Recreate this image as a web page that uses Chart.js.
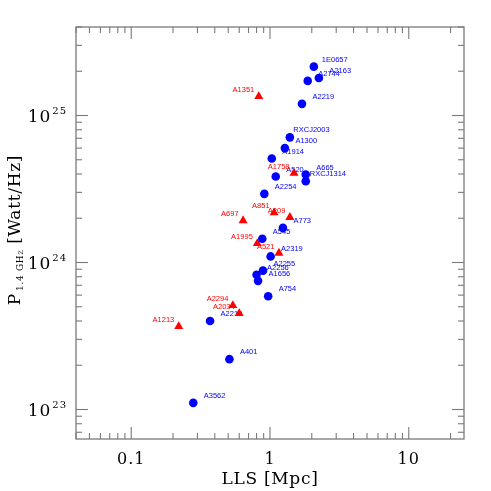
<!DOCTYPE html>
<html><head><meta charset="utf-8">
<script src="https://cdn.jsdelivr.net/npm/chart.js@4.4.1/dist/chart.umd.min.js"></script>
<style>html,body{margin:0;padding:0;background:#fff;} #wrap{width:491px;height:491px;position:relative;}</style>
</head><body><div id="wrap"><canvas id="c"></canvas></div>
<script>
// ---- data ----
const haloNames = ['1E0657','A2163','A2744','A2219','RXCJ2003','A1300','A1914','A520','A665','RXCJ1314','A2254','A773','A545','A2319','A2255','A2256','A1656','A754','A2218','A401','A3562'];
const haloLLS   = [2.07,2.25,1.87,1.70,1.39,1.28,1.03,1.10,1.81,1.81,0.91,1.24,0.88,1.01,0.89,0.80,0.82,0.97,0.37,0.51,0.28];
const haloPower = [2.15e25,1.80e25,1.72e25,1.20e25,7.1e24,6.0e24,5.1e24,3.85e24,3.97e24,3.57e24,2.93e24,1.72e24,1.45e24,1.10e24,8.8e23,8.25e23,7.5e23,5.9e23,4.0e23,2.2e23,1.11e23];

const relicNames = ['A1351','A1758','A851','A209','A697','A1995','A521','A2294','A2034','A1213'];
const relicLLS   = [0.83,1.49,1.07,1.39,0.64,0.81,1.16,0.54,0.60,0.22];
const relicPower = [1.35e25,4.05e24,2.18e24,2.03e24,1.93e24,1.35e24,1.16e24,5.1e23,4.5e23,3.67e23];

const xTickValues = [0.1, 1, 10];
const xTickLabels = ['0.1', '1', '10'];
const yTickValues = [1e23, 1e24, 1e25];
const yTickBase = '10';
const yTickExponents = ['23', '24', '25'];

const xTitle = 'LLS [Mpc]';
const yTitleMain = 'P';
const yTitleSub = '1.4 GHz';
const yTitleRest = '[Watt/Hz]';

// ---- styling ----
const BLUE = '#0000ff', RED = '#ff0000', AXIS = '#7a7a7a';
const SERIF = '"DejaVu Serif", serif';
const SANS = '"Liberation Sans", Arial, sans-serif';
const labelStyle = [
  {color: BLUE, dx: 10.5, dy: -7, align: 'left'},
  {color: RED, dx: -4.5, dy: -6.5, align: 'right'}
];
const labelShiftX = {'RXCJ2003': -7, 'RXCJ1314': -6.5, '1E0657': -2.5};

function line(ctx, x1, y1, x2, y2) { ctx.beginPath(); ctx.moveTo(x1, y1); ctx.lineTo(x2, y2); ctx.stroke(); }

const decorPlugin = {
  id: 'decor',
  beforeDatasetsDraw(chart) {
    const ctx = chart.ctx, a = chart.chartArea;
    const xs = chart.scales.x, ys = chart.scales.y;
    // point labels (drawn under the markers)
    ctx.save();
    ctx.font = '7.5px ' + SANS;
    ctx.textBaseline = 'middle';
    chart.data.datasets.forEach((ds, di) => {
      const st = labelStyle[di];
      const meta = chart.getDatasetMeta(di);
      meta.data.forEach((el, i) => {
        const name = ds.names[i];
        ctx.fillStyle = st.color;
        ctx.textAlign = st.align;
        ctx.fillText(name, el.x + st.dx + (labelShiftX[name] || 0), el.y + st.dy);
      });
    });
    ctx.restore();

    // frame and inward ticks on all four sides
    ctx.save();
    ctx.strokeStyle = AXIS;
    ctx.lineWidth = 1.3;
    ctx.strokeRect(a.left, a.top, a.right - a.left, a.bottom - a.top);
    ctx.lineWidth = 1.1;
    for (let e = -2; e <= 1; e++) {
      for (let m = 1; m <= 9; m++) {
        const v = m * Math.pow(10, e);
        if (v < xs.min * 0.999 || v > xs.max * 1.001) continue;
        const px = xs.getPixelForValue(v);
        const L = m === 1 ? 12 : 6;
        line(ctx, px, a.bottom, px, a.bottom - L);
        line(ctx, px, a.top, px, a.top + L);
      }
    }
    for (let e = 22; e <= 25; e++) {
      for (let m = 1; m <= 9; m++) {
        const v = m * Math.pow(10, e);
        if (v < ys.min * 0.999 || v > ys.max * 1.001) continue;
        const py = ys.getPixelForValue(v);
        const L = m === 1 ? 12 : 6;
        line(ctx, a.left, py, a.left + L, py);
        line(ctx, a.right, py, a.right - L, py);
      }
    }
    ctx.restore();

    // tick labels
    ctx.save();
    ctx.fillStyle = '#000';
    try { ctx.letterSpacing = '1px'; } catch (e) {}
    ctx.font = '16px ' + SERIF;
    ctx.textAlign = 'center';
    ctx.textBaseline = 'alphabetic';
    xTickValues.forEach((v, i) => {
      ctx.fillText(xTickLabels[i], xs.getPixelForValue(v), a.bottom + 25);
    });
    yTickValues.forEach((v, i) => {
      const py = ys.getPixelForValue(v);
      const right = a.left - 9;
      ctx.font = '10px ' + SERIF;
      ctx.textAlign = 'right';
      const ew = ctx.measureText(yTickExponents[i]).width;
      ctx.fillText(yTickExponents[i], right, py - 2);
      ctx.font = '17px ' + SERIF;
      ctx.fillText(yTickBase, right - ew - 1, py + 6.5);
    });
    // axis titles
    ctx.font = '17px ' + SERIF;
    ctx.textAlign = 'center';
    ctx.letterSpacing = '0.7px';
    ctx.fillText(xTitle, (a.left + a.right) / 2, a.bottom + 45);

    ctx.translate(20, (a.top + a.bottom) / 2 - 3);
    ctx.rotate(-Math.PI / 2);
    ctx.textAlign = 'left';
    ctx.font = '17px ' + SERIF;
    const wP = ctx.measureText(yTitleMain).width;
    const wR = ctx.measureText(yTitleRest).width;
    ctx.font = 'small-caps 9px ' + SERIF;
    const wS = ctx.measureText(yTitleSub).width;
    const gap1 = 2, gap2 = 6;
    const total = wP + gap1 + wS + gap2 + wR;
    let u = -total / 2;
    ctx.font = '17px ' + SERIF;
    ctx.fillText(yTitleMain, u, 0);
    u += wP + gap1;
    ctx.font = 'small-caps 9px ' + SERIF;
    ctx.fillText(yTitleSub, u, 3);
    u += wS + gap2;
    ctx.font = '17px ' + SERIF;
    ctx.fillText(yTitleRest, u, 0);
    ctx.restore();
  }
};

new Chart(document.getElementById('c'), {
  type: 'scatter',
  data: {
    datasets: [
      {
        label: 'halos', names: haloNames,
        data: haloLLS.map((x, i) => ({x: x, y: haloPower[i]})),
        pointStyle: 'circle', pointRadius: 4.3, pointHoverRadius: 4.3,
        backgroundColor: BLUE, borderColor: BLUE, borderWidth: 0
      },
      {
        label: 'relics', names: relicNames,
        data: relicLLS.map((x, i) => ({x: x, y: relicPower[i]})),
        pointStyle: 'triangle', pointRadius: 5.2, pointHoverRadius: 5.2,
        backgroundColor: RED, borderColor: RED, borderWidth: 0
      }
    ]
  },
  options: {
    responsive: true, maintainAspectRatio: false, animation: false,
    events: [],
    layout: {padding: {left: 76, top: 27, right: 27, bottom: 52}},
    plugins: {legend: {display: false}, tooltip: {enabled: false}},
    scales: {
      x: {type: 'logarithmic', min: 0.04, max: 25, display: false},
      y: {type: 'logarithmic', min: 6.3e22, max: 4e25, display: false}
    }
  },
  plugins: [decorPlugin]
});
</script>
</body></html>
